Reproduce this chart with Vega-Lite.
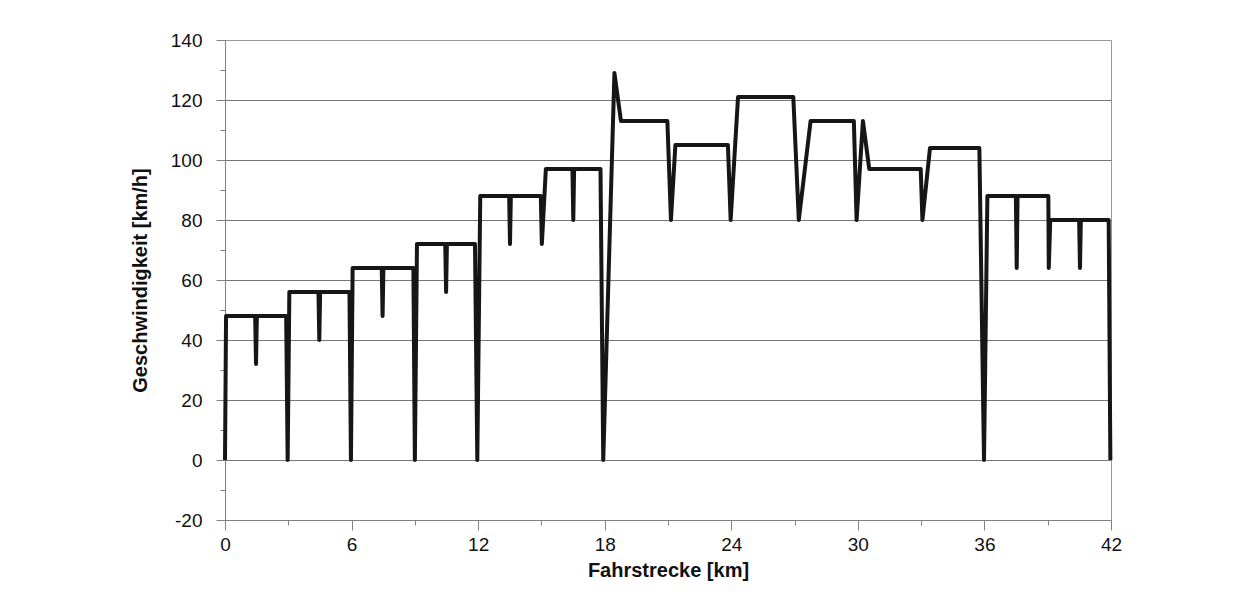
{
  "$schema": "https://vega.github.io/schema/vega-lite/v6.json",
  "autosize": "none",
  "width": 886,
  "height": 480,
  "padding": {"left": 225, "top": 40, "right": 136, "bottom": 72},
  "background": "white",
  "config": {
    "view": {"stroke": "#9a9a9a", "strokeWidth": 1},
    "font": "Liberation Sans",
    "axis": {
      "labelFont": "Liberation Sans",
      "labelFontSize": 19,
      "labelColor": "#111111",
      "titleFont": "Liberation Sans",
      "titleFontSize": 20,
      "titleFontWeight": "bold",
      "titleColor": "#111111",
      "domainColor": "#808080",
      "tickColor": "#808080",
      "gridColor": "#777777",
      "gridWidth": 1
    }
  },
  "data": {
    "values": [
      {"km": 0, "v": 0}, {"km": 0.05, "v": 48}, {"km": 1.43, "v": 48}, {"km": 1.47, "v": 32},
      {"km": 1.51, "v": 48}, {"km": 2.9, "v": 48}, {"km": 2.97, "v": 0}, {"km": 3.05, "v": 56},
      {"km": 4.43, "v": 56}, {"km": 4.47, "v": 40}, {"km": 4.51, "v": 56}, {"km": 5.9, "v": 56},
      {"km": 5.97, "v": 0}, {"km": 6.05, "v": 64}, {"km": 7.43, "v": 64}, {"km": 7.47, "v": 48},
      {"km": 7.51, "v": 64}, {"km": 8.93, "v": 64}, {"km": 9.0, "v": 0}, {"km": 9.1, "v": 72},
      {"km": 10.44, "v": 72}, {"km": 10.48, "v": 56}, {"km": 10.52, "v": 72}, {"km": 11.85, "v": 72},
      {"km": 11.96, "v": 0}, {"km": 12.1, "v": 88}, {"km": 13.47, "v": 88}, {"km": 13.51, "v": 72},
      {"km": 13.55, "v": 88}, {"km": 14.97, "v": 88}, {"km": 15.02, "v": 72}, {"km": 15.21, "v": 97},
      {"km": 16.47, "v": 97}, {"km": 16.51, "v": 80}, {"km": 16.55, "v": 97}, {"km": 17.8, "v": 97},
      {"km": 17.93, "v": 0}, {"km": 18.46, "v": 129}, {"km": 18.77, "v": 113}, {"km": 20.97, "v": 113},
      {"km": 21.14, "v": 80}, {"km": 21.35, "v": 105}, {"km": 23.84, "v": 105}, {"km": 23.97, "v": 80},
      {"km": 24.32, "v": 121}, {"km": 26.94, "v": 121}, {"km": 27.2, "v": 80}, {"km": 27.76, "v": 113},
      {"km": 29.81, "v": 113}, {"km": 29.94, "v": 80}, {"km": 30.24, "v": 113}, {"km": 30.54, "v": 97},
      {"km": 32.98, "v": 97}, {"km": 33.06, "v": 80}, {"km": 33.42, "v": 104}, {"km": 35.76, "v": 104},
      {"km": 35.98, "v": 0}, {"km": 36.14, "v": 88}, {"km": 37.49, "v": 88}, {"km": 37.53, "v": 64},
      {"km": 37.57, "v": 88}, {"km": 39.03, "v": 88}, {"km": 39.05, "v": 64}, {"km": 39.12, "v": 80},
      {"km": 40.49, "v": 80}, {"km": 40.53, "v": 64}, {"km": 40.57, "v": 80}, {"km": 41.89, "v": 80},
      {"km": 41.97, "v": 0}
    ]
  },
  "mark": {"type": "line", "color": "#161616", "strokeWidth": 4, "strokeJoin": "round", "clip": false},
  "encoding": {
    "x": {
      "field": "km",
      "type": "quantitative",
      "scale": {"domain": [0, 42], "nice": false, "zero": false},
      "axis": {
        "title": "Fahrstrecke [km]",
        "values": [0, 3, 6, 9, 12, 15, 18, 21, 24, 27, 30, 33, 36, 39, 42],
        "labelExpr": "datum.value % 6 === 0 ? '' + datum.value : ''",
        "grid": false,
        "tickSize": {"condition": {"test": "datum.value % 6 !== 0", "value": 5}, "value": 10},
        "labelPadding": 5,
        "labelFlush": false,
        "labelOverlap": false,
        "titlePadding": 6
      }
    },
    "y": {
      "field": "v",
      "type": "quantitative",
      "scale": {"domain": [-20, 140], "nice": false, "zero": false},
      "axis": {
        "title": "Geschwindigkeit [km/h]",
        "values": [-20, -10, 0, 10, 20, 30, 40, 50, 60, 70, 80, 90, 100, 110, 120, 130, 140],
        "labelExpr": "datum.value % 20 === 0 ? '' + datum.value : ''",
        "grid": true,
        "gridOpacity": {"condition": {"test": "datum.value % 20 !== 0 || datum.value <= -20 || datum.value >= 140", "value": 0}, "value": 1},
        "tickSize": {"condition": {"test": "datum.value % 20 !== 0", "value": 5}, "value": 9},
        "labelPadding": 14,
        "labelFlush": false,
        "labelOverlap": false,
        "titlePadding": 20
      }
    }
  }
}
